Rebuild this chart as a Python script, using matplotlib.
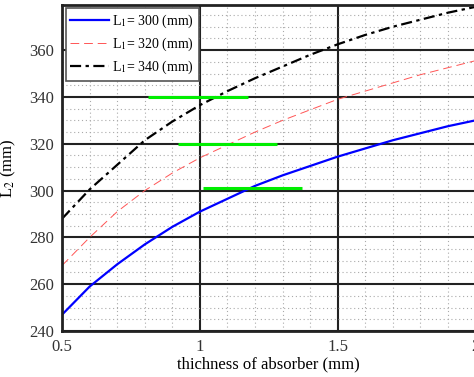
import numpy as np
import matplotlib
matplotlib.use("Agg")
import matplotlib.pyplot as plt
from matplotlib.ticker import MultipleLocator

plt.rcParams["font.family"] = ["Liberation Serif", "DejaVu Serif"]
plt.rcParams["mathtext.fontset"] = "stix"

# thickness of absorber (mm)
thickness = [0.5, 0.6, 0.7, 0.8, 0.9, 1.0, 1.1, 1.2, 1.3, 1.4, 1.5, 1.6, 1.7, 1.8, 1.9, 2.0]
# L2 (mm) for each L1
l2_300 = [247, 259, 268.5, 277, 284.5, 291, 296.5, 302, 306.5, 310.5, 314.5, 318, 321.5, 324.5, 327.5, 330]
l2_320 = [268, 280, 291, 300, 307.5, 314, 319.5, 325, 330, 334.5, 339, 342.5, 346, 349.5, 352.5, 355.5]
l2_340 = [288, 300.5, 311, 321.5, 329.5, 336.5, 342.5, 348, 353, 358, 362.5, 366.5, 370, 373, 376, 378.5]

# green marker segments: (y, x_start, x_end)
green_y = [340, 320, 301]
green_x0 = [0.81, 0.92, 1.01]
green_x1 = [1.175, 1.28, 1.37]

fig = plt.figure(figsize=(4.74, 3.77), dpi=100)
ax = fig.add_axes([0.131, 0.122, 0.872, 0.866])

ax.plot(thickness, l2_300, color="#0000ff", lw=1.6, label=r"L$_1$= 300 (mm)")
ax.plot(thickness, l2_320, color="#ff5555", lw=0.7, ls=(0, (9, 5)), label=r"L$_1$= 320 (mm)")
ax.plot(thickness, l2_340, color="black", lw=1.6, ls=(0, (5, 2, 1.5, 2)), label=r"L$_1$= 340 (mm)")

for y, a, b in zip(green_y, green_x0, green_x1):
    ax.plot([a, b], [y, y], color="#00ee00", lw=2.2, solid_capstyle="butt")

ax.set_xlim(0.5, 2.0)
ax.set_ylim(240, 379.5)
ax.set_xticks([0.5, 1, 1.5, 2])
ax.set_xticklabels(["0.5", "1", "1.5", "2"])
ax.set_yticks([240, 260, 280, 300, 320, 340, 360])
ax.xaxis.set_minor_locator(MultipleLocator(0.1))
ax.yaxis.set_minor_locator(MultipleLocator(5))
ax.grid(which="major", color="#222222", lw=1.5, ls="-")
ax.grid(which="minor", color="#aaaaaa", lw=0.8, ls=(0, (1, 2.5)))
ax.set_axisbelow(True)
ax.tick_params(which="both", length=0, labelsize=12, colors="#333333", pad=6)
for s in ax.spines.values():
    s.set_linewidth(2.0)
    s.set_color("#222222")

ax.set_xlabel("thichness of absorber (mm)", fontsize=12, labelpad=1)
ax.set_ylabel(r"L$_2$ (mm)", fontsize=12, labelpad=8)

leg = ax.legend(loc="upper left", bbox_to_anchor=(0.0, 1.0), fontsize=10, fancybox=False,
                framealpha=1, edgecolor="#555555", handlelength=2.8, handletextpad=0.2,
                borderpad=0.35, labelspacing=0.4, borderaxespad=0.25)
leg.get_frame().set_linewidth(1.2)

fig.savefig("out.png", dpi=100)
